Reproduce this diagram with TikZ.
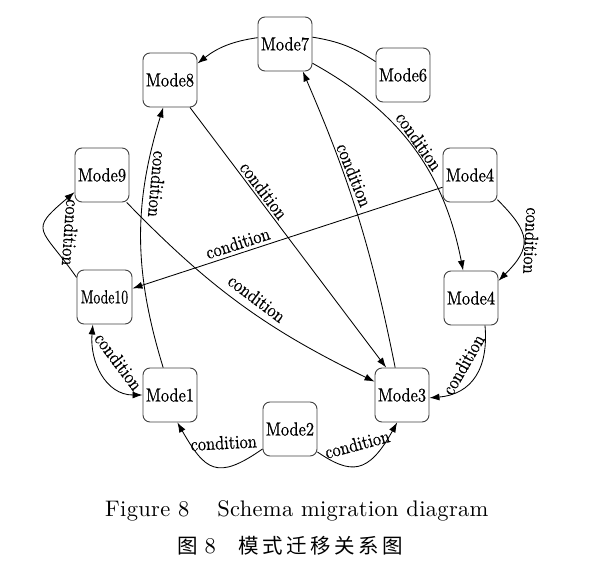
\documentclass[tikz,border=0pt]{standalone}
\usepackage{fontspec}
\usepackage{graphicx}
\usetikzlibrary{arrows.meta}
\newfontfamily\nodefont{lmroman10-regular}[Extension=.otf,FakeStretch=0.86,FakeBold=0.6]
\newfontfamily\capfont{lmroman10-regular}[Extension=.otf,LetterSpace=1.4]
\newfontfamily\cjkfont{Noto Sans CJK SC}[LetterSpace=17]
\begin{document}
\begin{tikzpicture}[x=1pt,y=1pt,
  mode/.style={draw=black!75, line width=0.9pt, rounded corners=7pt,
    minimum width=54pt, minimum height=54pt, inner sep=0pt,
    font=\nodefont\fontsize{19}{21}\selectfont},
  lbl/.style={font=\nodefont\fontsize{19}{21}\selectfont, anchor=south, inner sep=2pt},
  conn/.style={line width=0.85pt, draw=black},
  arr/.style={conn, -{Latex[length=10pt,width=7pt]}},
  darr/.style={conn, {Latex[length=10pt,width=7pt]}-{Latex[length=10pt,width=7pt]}}]
\useasboundingbox (0,0) rectangle (611,566);
% nodes
\node[mode] (m7) at (285,522) {Mode7};
\node[mode] (m8) at (170,486) {Mode8};
\node[mode] (m6) at (403,491) {Mode6};
\node[mode] (m9) at (102,391) {Mode9};
\node[mode, minimum width=55pt] (m10) at (104.5,269) {\scalebox{0.84}[1]{Mode10}};
\node[mode] (m4a) at (470,391) {Mode4};
\node[mode] (m4b) at (471,268) {Mode4};
\node[mode] (m1) at (170,171) {Mode1};
\node[mode] (m2) at (290,137) {Mode2};
\node[mode] (m3) at (402,171) {Mode3};
% connectors
\draw[arr] (m7.167) to[bend right=15] (m8.31);
\draw[conn] (m7.14) to[bend left=12] (m6.154);
\draw[arr] (m7.-35) to[bend left=25] node[lbl,pos=0.49,rotate=-55,inner sep=1.5pt]{condition} (m4b.106);
\draw[arr] (m3.104) to[bend right=6] node[lbl,pos=0.64,rotate=-68,inner sep=2.5pt]{condition} (m7.-57);
\draw[arr] (m8.-54) -- node[lbl,pos=0.34,rotate=-53]{condition} (m3.120);
\draw[arr] (m1.104) to[bend left=17] node[lbl,pos=0.72,rotate=-95,inner sep=5pt]{condition} (m8.-104);
\draw[arr] (m9.-48) to[bend right=10] node[lbl,pos=0.53,rotate=-37,inner sep=7pt]{condition} (m3.154);
\draw[arr] (m4a.204) -- node[lbl,pos=0.65,rotate=18,inner sep=3.5pt]{condition} (m10.17);
\draw[arr] (m10.145) to[out=125,in=220,looseness=1.85] node[lbl,pos=0.5,rotate=-94,inner sep=19pt]{condition} (m9.212);
\draw[darr] (m10.-113) to[out=-95,in=180,looseness=1.1] node[lbl,pos=0.5,rotate=-53,inner sep=13pt]{condition} (m1.180);
\draw[arr] (m4b.-63) to[out=-85,in=5,looseness=1.2] node[lbl,pos=0.45,rotate=60,inner sep=9pt]{condition} (m3.-6);
\draw[arr] (m4a.-42) to[out=-45,in=45,looseness=1.5] node[lbl,pos=0.5,rotate=-93,inner sep=1pt]{condition} (m4b.32);
\draw[arr] (m2.216) to[out=215,in=-60,looseness=1.6] node[lbl,pos=0.35,rotate=3,inner sep=17.5pt]{condition} (m1.-75);
\draw[arr] (m2.-40) to[out=-34,in=-119,out distance=40pt,in distance=60pt] node[lbl,pos=0.55,rotate=15,inner sep=13.5pt]{condition} (m3.-100);
% caption
\node[anchor=base west, inner sep=0pt, font=\capfont\fontsize{22.5}{26}\selectfont] (cap1) at (105,49.3) {Figure 8\hspace*{28pt}Schema migration diagram};
\node[anchor=base west, inner sep=0pt] (cap2) at (177,13) {{\cjkfont\fontsize{20.5}{24}\selectfont 图}\hspace*{7pt}{\capfont\fontsize{22.5}{26}\selectfont 8}\hspace*{23pt}{\cjkfont\fontsize{20.5}{24}\selectfont 模式迁移关系图}};
\end{tikzpicture}
\end{document}
